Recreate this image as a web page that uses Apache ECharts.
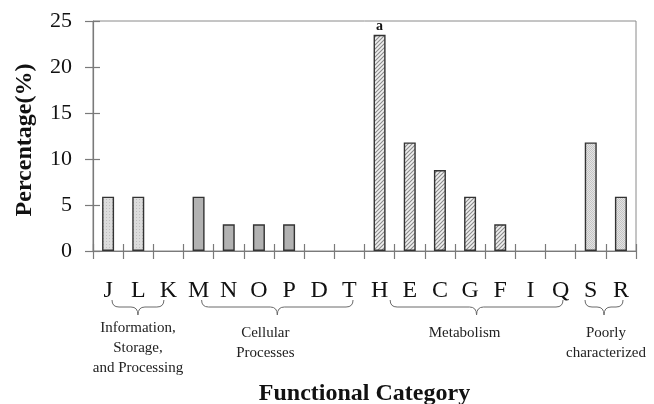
<!DOCTYPE html>
<html>
<head>
<meta charset="utf-8">
<script src="https://cdn.jsdelivr.net/npm/echarts@6/dist/echarts.min.js"></script>
<style>
  html, body { margin: 0; padding: 0; background: #fff; }
  #chart { width: 654px; height: 404px; }
</style>
</head>
<body>
<div id="chart"></div>
<script>
// COG functional categories and the share of genes in each (%)
const categories = ['J', 'L', 'K', 'M', 'N', 'O', 'P', 'D', 'T', 'H', 'E', 'C', 'G', 'F', 'I', 'Q', 'S', 'R'];
const percentages = [5.9, 5.9, 0, 5.9, 2.9, 2.9, 2.9, 0, 0, 23.5, 11.8, 8.8, 5.9, 2.9, 0, 0, 11.8, 5.9];
const yTicks = [0, 5, 10, 15, 20, 25];

// Functional groups: name lines and the first/last category of each
const groupLabels = [
  ['Information,', 'Storage,', 'and Processing'],
  ['Cellular', 'Processes'],
  ['Metabolism'],
  ['Poorly', 'characterized']
];
const groupFirst = ['J', 'M', 'H', 'S'];
const groupLast = ['K', 'T', 'Q', 'R'];

// Letter on top of the most abundant category
const noteCategory = 'H';
const noteText = 'a';

const SERIF = '"Liberation Serif", "Times New Roman", Times, serif';

function makePattern(size, draw) {
  const c = document.createElement('canvas');
  c.width = size; c.height = size;
  const g = c.getContext('2d');
  draw(g, size);
  return { image: c, repeat: 'repeat' };
}

const fills = [
  // information: light stipple
  makePattern(3, (g, s) => {
    g.fillStyle = '#dcdcdc'; g.fillRect(0, 0, s, s);
    g.fillStyle = '#bdbdbd'; g.fillRect(1, 1, 1, 1);
  }),
  // cellular processes: flat mid grey
  '#b2b2b2',
  // metabolism: diagonal hatching
  makePattern(4, (g, s) => {
    g.fillStyle = '#f0f0f0'; g.fillRect(0, 0, s, s);
    g.strokeStyle = '#8a8a8a'; g.lineWidth = 1.1;
    g.beginPath();
    g.moveTo(-1, s + 1); g.lineTo(s + 1, -1);
    g.moveTo(-1, 1); g.lineTo(1, -1);
    g.moveTo(s - 1, s + 1); g.lineTo(s + 1, s - 1);
    g.stroke();
  }),
  // poorly characterized: fine checker
  makePattern(2, (g, s) => {
    g.fillStyle = '#e4e4e4'; g.fillRect(0, 0, s, s);
    g.fillStyle = '#c4c4c4'; g.fillRect(0, 0, 1, 1); g.fillRect(1, 1, 1, 1);
  })
];

function groupOf(idx) {
  for (let k = 0; k < groupFirst.length; k++) {
    if (idx >= categories.indexOf(groupFirst[k]) && idx <= categories.indexOf(groupLast[k])) return k;
  }
  return 0;
}

const barData = percentages.map((v, i) => {
  const item = {
    value: v,
    itemStyle: {
      color: fills[groupOf(i)],
      borderColor: '#333',
      borderWidth: v > 0 ? 1.4 : 0
    }
  };
  if (categories[i] === noteCategory) {
    item.label = {
      show: true, position: 'top', distance: 1, formatter: noteText,
      fontFamily: SERIF, fontWeight: 'bold', fontSize: 14, color: '#111'
    };
  }
  return item;
});

const chart = echarts.init(document.getElementById('chart'), null, { renderer: 'canvas' });

const axisLineStyle = { color: '#7a7a7a', width: 1.2 };

chart.setOption({
  animation: false,
  backgroundColor: '#fff',
  grid: {
    left: 93, right: 18, top: 21, bottom: 153,
    containLabel: false,
    outerBoundsMode: 'none',
    show: true, borderColor: '#8a8a8a', borderWidth: 1, backgroundColor: 'transparent'
  },
  xAxis: [{
    type: 'category',
    data: categories,
    boundaryGap: true,
    axisLine: { show: true, lineStyle: axisLineStyle },
    axisTick: { show: true, alignWithLabel: false, length: 8, lineStyle: axisLineStyle },
    axisLabel: { margin: 28, fontFamily: SERIF, fontSize: 24, color: '#111', interval: 0 },
    name: 'Functional Category',
    nameLocation: 'middle',
    nameGap: 131,
    nameTextStyle: { fontFamily: SERIF, fontWeight: 'bold', fontSize: 24, color: '#111' }
  }, {
    // inner half of the crossing ticks
    type: 'category',
    data: categories,
    position: 'bottom',
    axisLine: { show: false },
    axisTick: { show: true, inside: true, length: 7, lineStyle: axisLineStyle },
    axisLabel: { show: false }
  }],
  yAxis: [{
    type: 'value',
    min: yTicks[0],
    max: yTicks[yTicks.length - 1],
    interval: yTicks[1] - yTicks[0],
    splitLine: { show: false },
    axisLine: { show: true, lineStyle: axisLineStyle },
    axisTick: { show: true, length: 8, lineStyle: axisLineStyle },
    axisLabel: { margin: 21, fontFamily: SERIF, fontSize: 22, color: '#111' },
    name: 'Percentage(%)',
    nameLocation: 'middle',
    nameGap: 56,
    nameRotate: 90,
    nameTextStyle: { fontFamily: SERIF, fontWeight: 'bold', fontSize: 24, color: '#111', padding: [0, 8, 0, 0] }
  }, {
    type: 'value',
    position: 'left',
    min: yTicks[0],
    max: yTicks[yTicks.length - 1],
    interval: yTicks[1] - yTicks[0],
    splitLine: { show: false },
    axisLine: { show: false },
    axisTick: { show: true, inside: true, length: 7, lineStyle: axisLineStyle },
    axisLabel: { show: false }
  }],
  series: [{
    type: 'bar',
    data: barData,
    barWidth: 12,
    xAxisIndex: 0,
    yAxisIndex: 0
  }]
});

// Curly braces and group names under the category letters
const braceInset = [[0.13, -0.15], [0.1, 0.12], [0.35, 0.08], [-0.19, 0.07]];
const labelShift = [0, -12, -12, 2];
const firstLineY = [328, 333, 333, 333];
const braceTop = 300, braceMid = 307, braceTip = 315, r = 7;

const x0 = chart.convertToPixel({ xAxisIndex: 0 }, categories[0]);
const step = chart.convertToPixel({ xAxisIndex: 0 }, categories[1]) - x0;
const px = f => x0 + f * step;

const braceStyle = { stroke: '#6a6a6a', lineWidth: 1, fill: null };
const curve = (x1, y1, cx, cy, x2, y2) => ({
  type: 'bezierCurve',
  shape: { x1: x1, y1: y1, cpx1: cx, cpy1: cy, x2: x2, y2: y2 },
  style: braceStyle
});
const seg = (x1, y1, x2, y2) => ({
  type: 'line',
  shape: { x1: x1, y1: y1, x2: x2, y2: y2 },
  style: braceStyle
});

const graphics = [];
groupLabels.forEach((lines, k) => {
  const a = px(categories.indexOf(groupFirst[k]) + braceInset[k][0]);
  const b = px(categories.indexOf(groupLast[k]) + braceInset[k][1]);
  const m = (a + b) / 2;
  const rr = Math.min(r, (b - a) / 4);
  graphics.push(
    curve(a, braceTop, a, braceMid, a + rr, braceMid),
    seg(a + rr, braceMid, m - rr, braceMid),
    curve(m - rr, braceMid, m, braceMid, m, braceTip),
    curve(m, braceTip, m, braceMid, m + rr, braceMid),
    seg(m + rr, braceMid, b - rr, braceMid),
    curve(b - rr, braceMid, b, braceMid, b, braceTop)
  );
  lines.forEach((t, j) => {
    graphics.push({
      type: 'text',
      x: m + labelShift[k],
      y: firstLineY[k] + j * 20,
      style: {
        text: t, fontFamily: SERIF, fontSize: 15, fill: '#222',
        align: 'center', verticalAlign: 'middle'
      }
    });
  });
});
chart.setOption({ graphic: graphics });
</script>
</body>
</html>
